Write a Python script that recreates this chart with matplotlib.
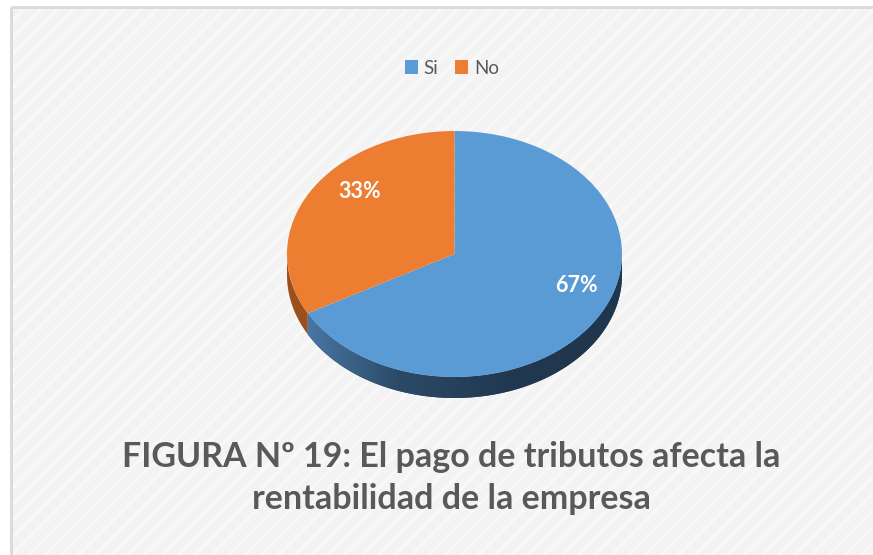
import matplotlib
matplotlib.use("Agg")
import matplotlib.pyplot as plt
from matplotlib.patches import Rectangle, Polygon, Patch
from matplotlib.colors import LinearSegmentedColormap
from matplotlib.transforms import ScaledTranslation
import numpy as np

# data
labels = ["Si", "No"]
values = [67, 33]
colors = ["#5b9bd5", "#ed7d31"]
side_colors = ["#2e4f70", "#9c4f1c"]
title = "FIGURA Nº 19: El pago de tributos afecta la\nrentabilidad de la empresa"

W, H = 873, 555
plt.rcParams["font.family"] = ["Lato", "DejaVu Sans"]
plt.rcParams["hatch.linewidth"] = 2.5

fig = plt.figure(figsize=(W / 100, H / 100), dpi=100)
fig.patch.set_facecolor("white")

# chart area background + border
bg = fig.add_axes([0, 0, 1, 1])
bg.set_xlim(0, W)
bg.set_ylim(H, 0)
bg.axis("off")
bg.add_patch(Rectangle((11, 7), W, H, facecolor="#f3f3f3", edgecolor="#f8f8f8",
                       hatch="//", lw=0))
bg.add_patch(Rectangle((11, 7), W + 10, H + 10, facecolor="none",
                       edgecolor="#d9d9d9", lw=2))

# pie axes: unit circle -> ellipse rx=167.5px, ry=123px
cx, cy, rx, ry = 454.5, 254, 167.5, 123
lim = 1.25
ax = fig.add_axes([(cx - lim * rx) / W, (H - cy - lim * ry) / H,
                   2 * lim * rx / W, 2 * lim * ry / H])
depth = 21 / ry

# side band drawn first
fracs = np.array(values) / sum(values)
start = 90.0
side_cmap = LinearSegmentedColormap.from_list(
    "side", ["#4f80b0", "#2c4a68", "#213850", "#1f364d"])
for frac, sc in zip(fracs, side_colors):
    end = start - frac * 360
    a0, a1 = sorted([start, end])
    # visible front part is between 180 and 360 (or -180 and 0)
    for lo, hi in [(-180, 0), (180, 360)]:
        s, e = max(a0, lo), min(a1, hi)
        if e <= s:
            continue
        t = np.radians(np.linspace(s, e, 80))
        xs, ys = np.cos(t), np.sin(t)
        pts = np.vstack([np.column_stack([xs, ys]),
                         np.column_stack([xs[::-1], ys[::-1] - depth])])
        poly = Polygon(pts, closed=True, facecolor=sc, edgecolor="none", zorder=1)
        ax.add_patch(poly)
        if sc == side_colors[0]:
            grad = np.linspace(0, 1, 256).reshape(1, -1)
            im = ax.imshow(grad, cmap=side_cmap, extent=(-1, 1, -1 - depth, 0),
                           aspect="auto", zorder=1.5)
            im.set_clip_path(poly)
    start = end

wedges, texts, autotexts = ax.pie(
    values, colors=colors, startangle=90, counterclock=False,
    autopct="%1.0f%%", pctdistance=0.75,
    wedgeprops=dict(linewidth=0, zorder=2),
    textprops=dict(color="white", fontsize=15.5, fontweight="bold"))
for w in wedges:
    w.set_zorder(2)
# labels sit a bit up-right, like the perspective view
shift = ScaledTranslation(0.135, 0.155, fig.dpi_scale_trans)
for t in autotexts:
    t.set_zorder(3)
    t.set_transform(t.get_transform() + shift)
ax.set_aspect("auto")
ax.set_xlim(-lim, lim)
ax.set_ylim(-lim, lim)
ax.axis("off")

# legend
handles = [Patch(facecolor=c, edgecolor="none", label=l) for l, c in zip(labels, colors)]
fig.legend(handles=handles, loc="center", bbox_to_anchor=(452 / W, 1 - 68 / H),
           ncol=2, frameon=False, fontsize=13.5, handlelength=0.7, handleheight=0.7,
           handletextpad=0.3, columnspacing=0.9, labelcolor="#595959")

fig.text(451 / W, 1 - 478 / H, title, ha="center", va="center", fontsize=24.5,
         fontweight="bold", color="#595959", linespacing=1.4)

fig.savefig("out.png", dpi=100)
